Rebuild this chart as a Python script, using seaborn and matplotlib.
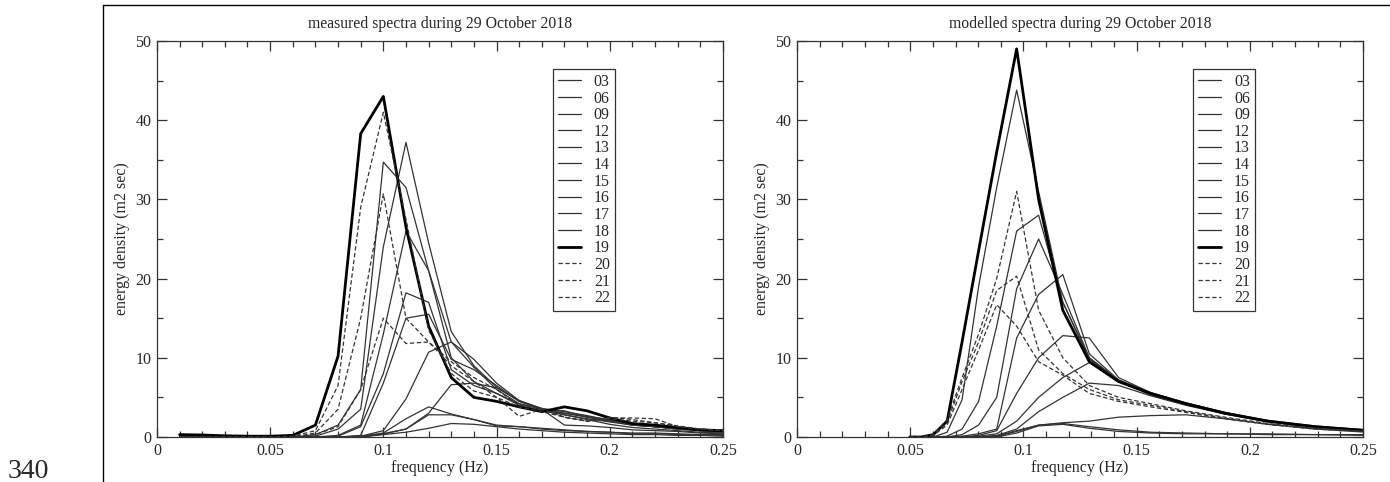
import numpy as np
import pandas as pd
import matplotlib
matplotlib.use("Agg")
import matplotlib.pyplot as plt
from matplotlib.lines import Line2D
import seaborn as sns

# ---------------- data ----------------
hours = ["03", "06", "09", "12", "13", "14", "15", "16", "17", "18", "19", "20", "21", "22"]

# measured spectra: frequency bins 0.01 ... 0.25 Hz
freq_meas = [0.01, 0.02, 0.03, 0.04, 0.05, 0.06, 0.07, 0.08, 0.09, 0.10, 0.11, 0.12, 0.13,
             0.14, 0.15, 0.16, 0.17, 0.18, 0.19, 0.20, 0.21, 0.22, 0.23, 0.24, 0.25]

meas_03 = [0, 0, 0, 0, 0, 0, 0, 0, 0, 0.3, 0.6, 1.1, 1.7, 1.6, 1.3, 1.0, 0.8, 0.6, 0.5, 0.4, 0.3, 0.3, 0.2, 0.2, 0.1]
meas_06 = [0, 0, 0, 0, 0, 0, 0, 0, 0, 0.4, 1.0, 2.8, 2.8, 2.2, 1.5, 1.3, 1.0, 0.8, 0.7, 0.6, 0.4, 0.4, 0.3, 0.3, 0.2]
meas_09 = [0, 0, 0, 0, 0, 0, 0, 0, 0.1, 0.5, 2.3, 3.8, 2.9, 2.2, 1.4, 1.3, 1.1, 0.9, 0.7, 0.6, 0.5, 0.5, 0.4, 0.3, 0.3]
meas_12 = [0, 0, 0, 0, 0, 0, 0, 0, 0, 0.4, 1.0, 3.0, 6.6, 6.8, 6.2, 4.6, 3.5, 1.5, 1.4, 1.2, 0.9, 0.8, 0.7, 0.5, 0.4]
meas_13 = [0, 0, 0, 0, 0, 0, 0, 0, 0.1, 0.8, 4.8, 10.7, 12.0, 9.8, 6.8, 4.6, 3.6, 2.8, 2.2, 1.6, 1.2, 1.0, 0.8, 0.6, 0.5]
meas_14 = [0, 0, 0, 0, 0, 0, 0, 0, 0.2, 6.8, 15.0, 15.5, 9.8, 8.5, 6.5, 4.5, 3.5, 3.3, 2.5, 2.0, 1.6, 1.3, 1.0, 0.8, 0.6]
meas_15 = [0, 0, 0, 0, 0, 0, 0, 0.1, 1.3, 8.0, 18.2, 17.0, 8.5, 6.5, 5.5, 4.2, 3.5, 3.0, 2.6, 2.2, 1.5, 1.3, 1.0, 0.8, 0.6]
meas_16 = [0, 0, 0, 0, 0, 0, 0, 0.2, 1.5, 13.0, 26.0, 21.0, 10.0, 7.0, 5.5, 4.0, 3.3, 2.8, 2.3, 1.9, 1.5, 1.3, 1.1, 0.9, 0.7]
meas_17 = [0, 0, 0, 0, 0, 0, 0.1, 1.0, 3.5, 24.0, 37.2, 24.5, 13.3, 9.0, 6.3, 4.5, 3.6, 3.2, 2.7, 2.1, 1.6, 1.3, 1.1, 0.9, 0.7]
meas_18 = [0, 0, 0, 0, 0, 0, 0.3, 1.5, 6.0, 34.7, 31.5, 21.0, 12.0, 8.8, 6.0, 4.2, 3.5, 3.0, 2.5, 2.0, 1.5, 1.3, 1.0, 0.9, 0.7]
meas_19 = [0.3, 0.25, 0.15, 0.1, 0.1, 0.2, 1.5, 10.2, 38.3, 43.0, 26.5, 14.0, 7.5, 5.0, 4.5, 3.8, 3.2, 3.8, 3.3, 2.4, 1.7, 1.5, 1.2, 0.9, 0.8]
meas_20 = [0, 0, 0, 0, 0, 0.1, 0.8, 6.5, 29.0, 41.0, 27.5, 13.5, 8.0, 5.8, 5.0, 3.8, 3.2, 2.5, 2.0, 2.3, 2.0, 1.8, 1.4, 1.0, 0.8]
meas_21 = [0, 0, 0, 0, 0, 0, 0.5, 3.5, 15.0, 30.7, 15.0, 12.0, 9.0, 7.0, 5.0, 2.6, 3.5, 2.5, 2.0, 2.5, 2.2, 1.8, 1.3, 1.0, 0.8]
meas_22 = [0, 0, 0, 0, 0, 0, 0.3, 1.3, 6.0, 15.0, 11.8, 12.0, 9.5, 7.5, 6.0, 4.0, 3.5, 2.5, 2.0, 2.4, 2.4, 2.3, 1.3, 1.0, 0.8]

# modelled spectra: logarithmic frequency bins
freq_mod = [0.0498, 0.0548, 0.0602, 0.0663, 0.0729, 0.0802, 0.0882, 0.0970, 0.1067,
            0.1174, 0.1291, 0.1420, 0.1562, 0.1718, 0.1890, 0.2079, 0.2287, 0.2516]

mod_03 = [0, 0, 0, 0, 0, 0, 0, 0.5, 1.4, 1.6, 1.1, 0.7, 0.5, 0.4, 0.4, 0.3, 0.3, 0.2]
mod_06 = [0, 0, 0, 0, 0, 0, 0.1, 0.7, 1.5, 1.7, 1.3, 0.9, 0.6, 0.5, 0.4, 0.4, 0.3, 0.3]
mod_09 = [0, 0, 0, 0, 0, 0, 0.1, 0.8, 1.5, 1.8, 2.0, 2.5, 2.7, 2.8, 2.3, 1.6, 1.0, 0.6]
mod_12 = [0, 0, 0, 0, 0, 0, 0.2, 1.0, 3.2, 5.0, 6.8, 6.5, 5.2, 4.0, 2.9, 2.0, 1.3, 0.8]
mod_13 = [0, 0, 0, 0, 0, 0.1, 0.4, 2.0, 5.0, 7.5, 9.4, 7.0, 5.3, 4.1, 2.9, 1.9, 1.2, 0.8]
mod_14 = [0, 0, 0, 0, 0, 0.2, 0.8, 5.5, 10.0, 12.8, 12.5, 7.5, 5.6, 4.3, 3.1, 2.0, 1.3, 0.8]
mod_15 = [0, 0, 0, 0, 0.1, 0.4, 1.0, 12.5, 18.0, 20.5, 10.5, 7.2, 5.5, 4.2, 3.0, 2.0, 1.3, 0.8]
mod_16 = [0, 0, 0, 0, 0.3, 1.5, 5.0, 18.7, 25.0, 18.0, 10.0, 7.0, 5.4, 4.1, 3.0, 2.0, 1.3, 0.8]
mod_17 = [0, 0, 0, 0.1, 1.0, 4.5, 14.0, 26.0, 28.0, 17.0, 9.8, 7.1, 5.5, 4.2, 3.0, 2.0, 1.3, 0.9]
mod_18 = [0, 0, 0, 0.6, 4.7, 19.0, 31.5, 43.8, 31.0, 17.0, 10.0, 7.2, 5.6, 4.3, 3.1, 2.1, 1.4, 0.9]
mod_19 = [0, 0, 0.3, 2.0, 12.0, 23.5, 36.0, 49.0, 30.0, 16.0, 9.5, 7.0, 5.5, 4.2, 3.0, 2.0, 1.3, 0.8]
mod_20 = [0, 0, 0.3, 2.2, 7.5, 13.0, 20.0, 31.0, 16.0, 10.0, 6.5, 5.0, 4.2, 3.3, 2.5, 1.7, 1.1, 0.7]
mod_21 = [0, 0, 0.2, 1.8, 7.0, 12.0, 18.5, 20.3, 11.0, 8.0, 6.0, 4.7, 4.0, 3.2, 2.4, 1.6, 1.1, 0.7]
mod_22 = [0, 0, 0.2, 1.5, 6.0, 11.0, 16.7, 14.0, 9.5, 7.8, 5.5, 4.5, 3.8, 3.1, 2.3, 1.6, 1.0, 0.7]

measured = [meas_03, meas_06, meas_09, meas_12, meas_13, meas_14, meas_15,
            meas_16, meas_17, meas_18, meas_19, meas_20, meas_21, meas_22]
modelled = [mod_03, mod_06, mod_09, mod_12, mod_13, mod_14, mod_15,
            mod_16, mod_17, mod_18, mod_19, mod_20, mod_21, mod_22]

titles = ["measured spectra during 29 October 2018", "modelled spectra during 29 October 2018"]
x_ticks = [0, 0.05, 0.1, 0.15, 0.2, 0.25]
x_ticklabels = ["0", "0.05", "0.1", "0.15", "0.2", "0.25"]
y_ticks = [0, 10, 20, 30, 40, 50]

# ---------------- style ----------------
sns.set_style("ticks")
plt.rcParams["font.family"] = ["Liberation Serif", "DejaVu Serif"]

fig = plt.figure(figsize=(13.9, 4.82), dpi=100)
ax1 = fig.add_axes([0.1129, 0.0934, 0.4072, 0.8216])
ax2 = fig.add_axes([0.5734, 0.0934, 0.4072, 0.8216])


def style_for(h):
    if h == "19":
        return dict(color="black", lw=2.0, ls="-")
    if h in ("20", "21", "22"):
        return dict(color="#333333", lw=0.9, ls=(0, (3.5, 2)))
    return dict(color="#333333", lw=0.9, ls="-")


for ax, freqs, series, title in [(ax1, freq_meas, measured, titles[0]),
                                 (ax2, freq_mod, modelled, titles[1])]:
    for h, vals in zip(hours, series):
        df = pd.DataFrame({"freq": freqs, "E": vals})
        st = style_for(h)
        sns.lineplot(data=df, x="freq", y="E", ax=ax, color=st["color"],
                     linewidth=st["lw"], linestyle=st["ls"], label=h,
                     estimator=None, sort=False)
    ax.set_xlim(0, 0.25)
    ax.set_ylim(0, 50)
    ax.set_xticks(x_ticks)
    ax.set_xticklabels(x_ticklabels)
    ax.set_yticks(y_ticks)
    ax.set_xticks(np.arange(0, 0.2501, 0.01), minor=True)
    ax.set_yticks(np.arange(0, 50.1, 5), minor=True)
    ax.tick_params(which="both", direction="in", top=True, right=True,
                   labelsize=11.5, color="#333333", width=0.9)
    ax.tick_params(which="major", length=7, pad=4)
    ax.tick_params(which="minor", length=4)
    for sp in ax.spines.values():
        sp.set_linewidth(0.9)
        sp.set_color("#333333")
    ax.set_xlabel("frequency (Hz)", fontsize=11.5, labelpad=1)
    ax.set_ylabel("energy density (m2 sec)", fontsize=11.5, labelpad=4)
    ax.set_title(title, fontsize=11.3, pad=9)
    leg = ax.legend(loc="upper left", bbox_to_anchor=(0.70, 0.929),
                    borderaxespad=0, fontsize=11.5, labelspacing=0.04,
                    handlelength=1.45, handletextpad=0.8, borderpad=0.3,
                    fancybox=False, framealpha=1, edgecolor="#333333")
    leg.get_frame().set_linewidth(0.9)

# page frame and page number
fig.add_artist(Line2D([103 / 1390, 1.0], [1 - 5 / 482, 1 - 5 / 482], color="black", lw=1.0))
fig.add_artist(Line2D([103 / 1390, 103 / 1390], [0, 1 - 5 / 482], color="black", lw=1.0))
fig.text(8 / 1390, 1 - 478 / 482, "340", fontsize=20, ha="left", va="baseline")

fig.savefig("out.png", dpi=100)
